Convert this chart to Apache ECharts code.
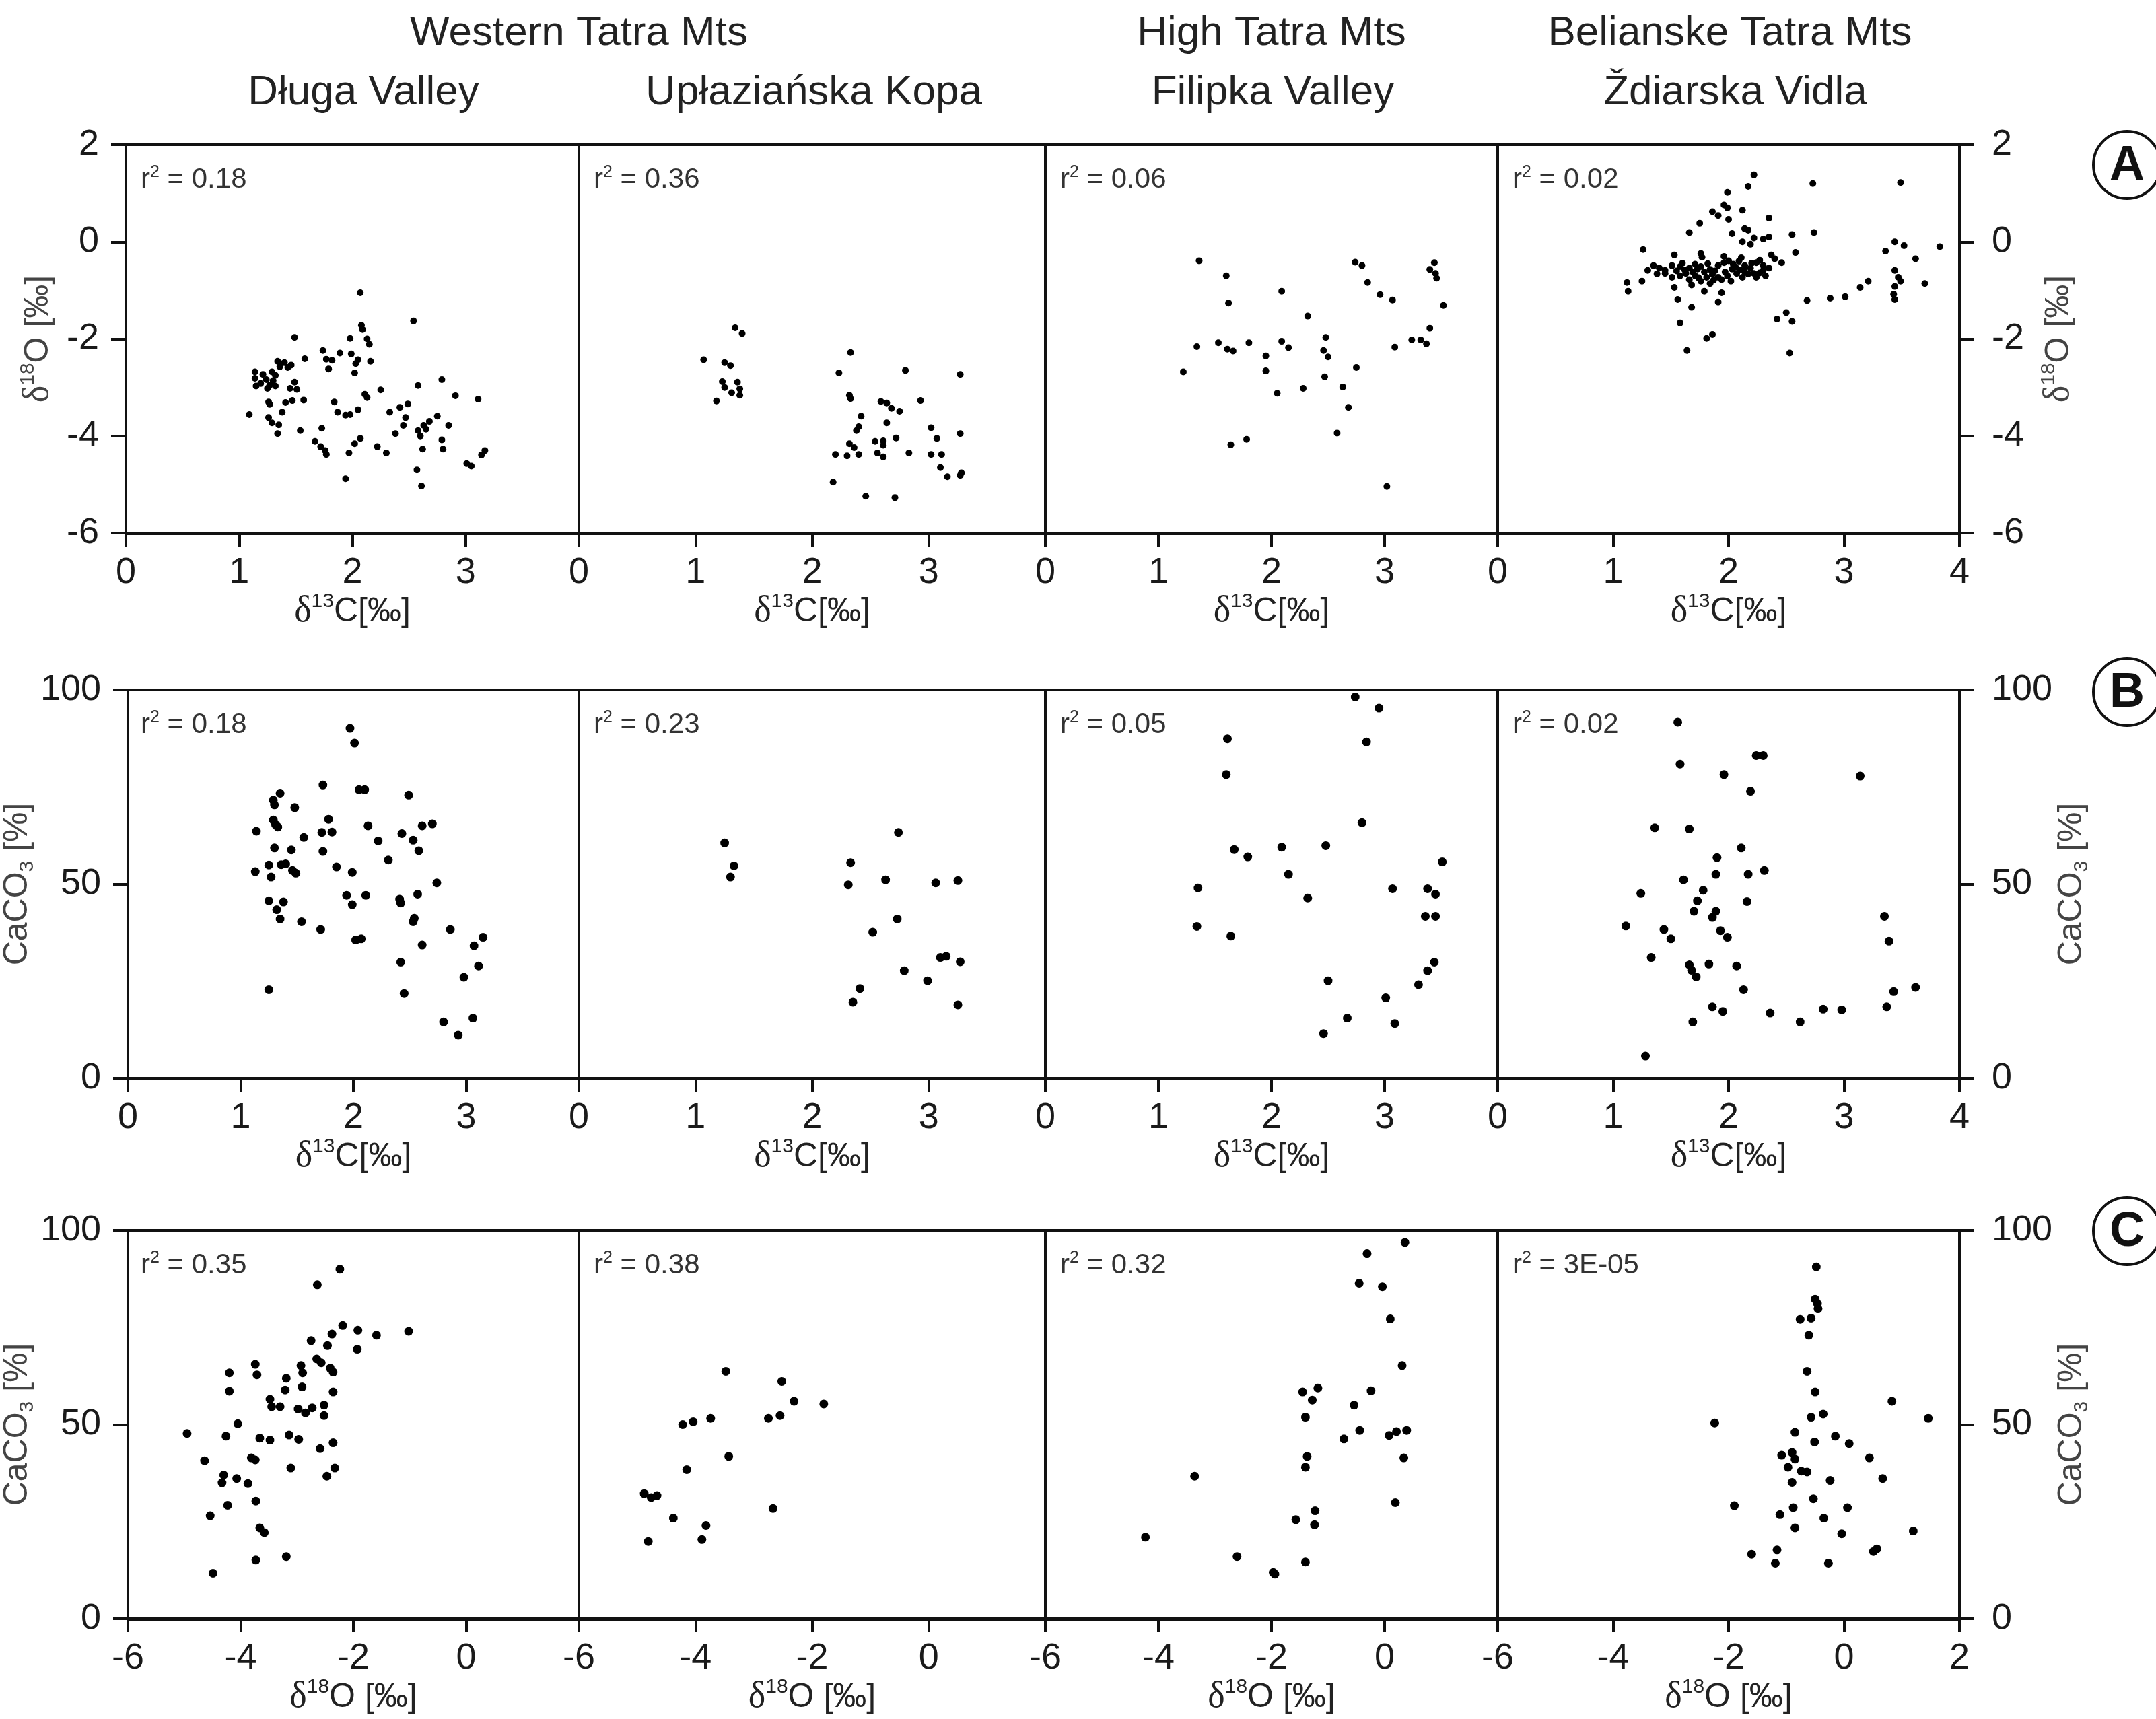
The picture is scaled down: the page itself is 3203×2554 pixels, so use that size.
<!DOCTYPE html>
<html>
<head>
<meta charset="utf-8">
<title>Tatra Mts - d13C, d18O, CaCO3</title>
<script src="https://cdn.jsdelivr.net/npm/echarts@6/dist/echarts.min.js"></script>
<style>
  html, body { margin: 0; padding: 0; background: #fff; }
  #chart { width: 3203px; height: 2554px; }
</style>
</head>
<body>
<div id="chart"></div>
<script>
// ---- data ----
const regionNames = ['Western Tatra Mts', 'High Tatra Mts', 'Belianske Tatra Mts']
const siteNames = ['Długa Valley', 'Upłaziańska Kopa', 'Filipka Valley', 'Ždiarska Vidla']
const rowLetters = ['A', 'B', 'C']
const r2Labels = [
  ['0.18', '0.36', '0.06', '0.02'],
  ['0.18', '0.23', '0.05', '0.02'],
  ['0.35', '0.38', '0.32', '3E-05']
]
// [min, max, interval]
const xRange = [[0, 4, 1], [0, 4, 1], [-6, 2, 2]]
const yRange = [[-6, 2, 2], [0, 100, 50], [0, 100, 50]]

// A: d13C vs d18O
const aDluga = [[2.07,-1.05],[2.54,-1.63],[2.08,-1.72],[2.09,-1.81],[1.49,-1.97],[1.98,-1.99],[2.13,-2.0],[2.15,-2.11],[1.74,-2.24],[1.89,-2.29],[1.99,-2.31],[1.58,-2.41],[1.77,-2.42],[1.82,-2.44],[2.05,-2.43],[2.16,-2.46],[2.03,-2.51],[1.34,-2.46],[1.40,-2.49],[1.46,-2.54],[1.36,-2.57],[1.43,-2.59],[1.79,-2.62],[2.02,-2.70],[1.14,-2.68],[1.21,-2.73],[1.29,-2.68],[1.32,-2.75],[1.14,-2.81],[1.24,-2.84],[1.30,-2.86],[1.19,-2.92],[1.27,-2.95],[1.15,-2.97],[1.25,-3.02],[1.32,-2.97],[1.49,-2.89],[1.45,-3.02],[1.51,-3.04],[2.79,-2.84],[2.58,-2.96],[2.25,-3.05],[2.11,-3.14],[2.13,-3.21],[2.91,-3.17],[3.11,-3.24],[1.26,-3.30],[1.27,-3.35],[1.41,-3.31],[1.47,-3.27],[1.57,-3.26],[1.84,-3.30],[2.49,-3.34],[2.42,-3.41],[1.87,-3.51],[1.98,-3.56],[2.05,-3.46],[1.94,-3.57],[1.38,-3.51],[1.09,-3.56],[2.33,-3.51],[2.47,-3.62],[2.75,-3.59],[2.68,-3.70],[1.26,-3.62],[1.29,-3.73],[1.35,-3.77],[2.45,-3.78],[2.63,-3.78],[2.85,-3.78],[2.58,-3.89],[2.65,-3.86],[1.73,-3.84],[1.54,-3.89],[1.34,-3.95],[2.38,-3.95],[2.60,-4.0],[2.07,-4.05],[2.79,-4.08],[1.67,-4.11],[2.02,-4.16],[1.72,-4.22],[1.76,-4.30],[1.77,-4.38],[2.22,-4.22],[2.30,-4.35],[2.62,-4.27],[2.80,-4.27],[1.97,-4.35],[3.17,-4.30],[3.14,-4.39],[3.01,-4.57],[3.05,-4.62],[2.57,-4.70],[1.94,-4.88],[2.61,-5.03]]
const aUplaz = [[1.34,-1.77],[1.40,-1.89],[2.33,-2.28],[1.07,-2.43],[1.25,-2.49],[1.30,-2.55],[2.80,-2.65],[2.23,-2.70],[3.27,-2.73],[1.23,-2.88],[1.36,-2.89],[1.25,-3.00],[1.38,-3.03],[1.31,-3.11],[1.38,-3.16],[1.18,-3.28],[2.32,-3.16],[2.33,-3.23],[2.59,-3.29],[2.64,-3.32],[2.93,-3.27],[2.68,-3.43],[2.75,-3.49],[2.42,-3.59],[2.64,-3.73],[2.40,-3.81],[2.38,-3.89],[3.02,-3.83],[3.27,-3.95],[2.72,-4.04],[3.07,-4.05],[2.54,-4.11],[2.61,-4.10],[2.32,-4.16],[2.36,-4.24],[2.61,-4.19],[2.20,-4.38],[2.30,-4.41],[2.40,-4.38],[2.56,-4.35],[2.61,-4.43],[2.83,-4.35],[3.02,-4.38],[3.11,-4.38],[3.10,-4.65],[3.16,-4.84],[3.28,-4.76],[3.27,-4.81],[2.18,-4.95],[2.46,-5.24],[2.71,-5.27]]
const aFilipka = [[1.36,-0.39],[1.60,-0.70],[2.74,-0.42],[2.80,-0.49],[3.44,-0.43],[3.40,-0.57],[3.45,-0.65],[3.46,-0.75],[2.85,-0.84],[2.09,-1.02],[2.96,-1.09],[3.07,-1.20],[1.62,-1.26],[3.52,-1.31],[2.32,-1.53],[3.40,-1.78],[2.48,-1.97],[3.24,-2.02],[3.32,-2.02],[3.37,-2.10],[1.34,-2.16],[1.53,-2.08],[1.61,-2.21],[1.66,-2.25],[1.80,-2.08],[2.09,-2.05],[2.15,-2.18],[2.46,-2.24],[2.50,-2.37],[3.09,-2.17],[1.95,-2.35],[1.22,-2.68],[1.95,-2.66],[2.75,-2.59],[2.47,-2.78],[2.63,-2.99],[2.28,-3.02],[2.05,-3.12],[2.68,-3.41],[2.58,-3.94],[1.78,-4.07],[1.64,-4.18],[3.02,-5.04]]
const aZdiar = [[2.22,1.38],[2.17,1.14],[2.73,1.20],[3.49,1.22],[1.99,1.02],[1.96,0.76],[1.99,0.70],[2.12,0.65],[1.86,0.62],[1.91,0.54],[2.00,0.46],[2.35,0.49],[1.75,0.38],[2.14,0.27],[2.17,0.24],[1.66,0.19],[2.03,0.17],[2.55,0.15],[2.74,0.19],[2.22,0.08],[2.30,0.06],[2.35,0.10],[2.12,0.00],[2.19,-0.05],[3.44,0.00],[3.52,-0.08],[3.83,-0.10],[3.36,-0.19],[1.26,-0.16],[2.58,-0.22],[1.53,-0.27],[1.76,-0.24],[1.77,-0.32],[1.96,-0.30],[2.37,-0.27],[2.40,-0.35],[3.62,-0.35],[2.46,-0.43],
  [1.35,-0.49],[1.40,-0.54],[1.45,-0.59],[1.30,-0.59],[1.51,-0.49],[1.58,-0.51],[1.66,-0.54],[1.71,-0.46],[1.76,-0.51],[1.84,-0.57],[1.91,-0.49],[1.96,-0.43],[2.04,-0.46],[2.09,-0.40],[2.14,-0.49],[2.19,-0.54],[2.24,-0.43],[2.30,-0.49],[2.35,-0.54],[1.63,-0.65],[1.71,-0.70],[1.79,-0.62],[1.86,-0.67],[1.91,-0.73],[1.99,-0.70],[2.07,-0.65],[2.14,-0.62],[2.22,-0.65],[2.30,-0.59],[1.66,-0.78],[1.76,-0.81],[1.84,-0.86],[1.94,-0.78],[2.02,-0.81],[1.58,-0.70],[1.51,-0.73],[1.45,-0.65],[1.68,-0.89],[1.81,-0.73],[2.12,-0.73],[2.24,-0.73],[2.32,-0.70],
  [1.62,-0.58],[1.69,-0.62],[1.74,-0.74],[1.88,-0.60],[1.97,-0.62],[2.03,-0.56],[2.10,-0.58],[2.17,-0.66],[2.27,-0.64],[2.20,-0.44],[2.06,-0.52],[1.82,-0.45],[1.73,-0.56],[1.55,-0.60],[1.87,-0.79],[2.00,-0.39],[2.27,-0.38],[2.11,-0.33],[1.60,-0.44],[1.38,-0.66],
  [1.12,-0.84],[1.13,-1.02],[1.25,-0.81],[1.53,-0.94],[1.56,-1.19],[1.68,-1.35],[1.79,-1.02],[1.91,-1.24],[1.94,-1.05],[1.58,-1.67],[1.81,-1.99],[1.86,-1.91],[1.64,-2.24],[2.42,-1.59],[2.50,-1.46],[2.55,-1.64],[2.53,-2.29],[2.68,-1.21],[2.88,-1.16],[3.01,-1.13],[3.14,-0.94],[3.21,-0.81],[3.44,-0.59],[3.47,-0.73],[3.49,-0.81],[3.44,-0.92],[3.43,-1.08],[3.44,-1.19],[3.70,-0.86]]

// B: d13C vs CaCO3
const bDluga = [[1.97,90.1],[2.01,86.3],[1.73,75.5],[2.05,74.3],[2.10,74.3],[1.35,73.4],[2.49,72.9],[1.29,71.6],[1.30,70.4],[1.48,69.7],[1.29,66.5],[1.31,65.3],[1.33,64.7],[1.78,66.7],[1.14,63.6],[1.72,63.3],[1.81,63.4],[2.13,65.0],[2.61,65.0],[2.70,65.5],[2.43,63.0],[1.56,62.0],[2.22,61.1],[2.53,61.3],[1.30,59.3],[1.45,58.8],[1.73,58.4],[2.58,58.6],[2.31,56.2],[1.25,54.9],[1.36,55.0],[1.40,55.2],[1.13,53.2],[1.46,53.5],[1.49,52.8],[1.85,54.4],[1.99,53.0],[1.27,51.8],[2.74,50.3],[1.25,45.7],[1.38,45.4],[1.94,47.1],[1.99,44.7],[2.11,47.1],[2.41,46.1],[2.42,45.1],[2.57,47.4],[1.32,43.4],[1.35,41.0],[1.54,40.3],[1.71,38.3],[2.54,41.2],[2.53,40.3],[2.86,38.3],[2.02,35.6],[2.07,35.9],[3.15,36.3],[3.07,34.1],[2.61,34.3],[2.42,29.9],[3.11,28.9],[2.98,26.0],[1.25,22.8],[2.45,21.8],[2.80,14.5],[3.06,15.5],[2.93,11.1]]
const bUplaz = [[1.25,60.6],[1.33,54.7],[1.30,51.8],[2.74,63.3],[2.33,55.5],[2.31,49.8],[2.63,51.1],[3.06,50.3],[3.25,50.9],[2.73,41.0],[2.52,37.6],[3.10,31.1],[3.15,31.4],[3.27,30.0],[2.79,27.7],[2.99,25.1],[2.41,23.1],[2.35,19.6],[3.25,18.9]]
const bFilipka = [[2.74,98.2],[2.95,95.3],[2.84,86.6],[1.61,87.4],[1.60,78.2],[2.80,65.8],[1.67,58.9],[1.79,57.0],[2.09,59.5],[2.48,59.9],[3.51,55.7],[2.15,52.5],[1.35,49.0],[2.32,46.4],[3.07,48.8],[3.38,48.8],[3.45,47.4],[3.36,41.7],[3.45,41.7],[1.34,39.1],[1.64,36.6],[3.44,29.9],[3.38,27.7],[3.30,24.1],[2.50,25.1],[3.01,20.7],[2.67,15.5],[3.09,14.1],[2.46,11.5]]
const bZdiar = [[1.56,91.7],[1.58,80.9],[2.24,83.1],[2.30,83.1],[1.96,78.2],[3.14,77.8],[2.19,73.9],[1.36,64.5],[1.66,64.2],[2.11,59.3],[1.90,56.8],[1.89,52.5],[2.17,52.5],[2.31,53.5],[1.61,51.1],[1.24,47.6],[1.78,48.4],[1.73,45.7],[2.16,45.5],[1.70,43.0],[1.89,43.0],[1.86,41.4],[1.11,39.2],[1.44,38.3],[1.50,35.9],[1.93,38.0],[1.99,36.3],[3.35,41.7],[3.39,35.3],[1.33,31.1],[1.66,29.2],[1.68,27.8],[1.72,26.1],[1.83,29.4],[2.07,28.9],[2.13,22.8],[3.43,22.3],[3.62,23.4],[1.86,18.4],[1.95,17.2],[2.36,16.8],[2.82,17.8],[2.98,17.6],[3.37,18.4],[1.69,14.5],[2.62,14.5],[1.28,5.7]]

// C: d18O vs CaCO3
const cDluga = [[-2.24,90.0],[-2.64,86.0],[-2.19,75.5],[-2.38,73.3],[-1.92,74.3],[-1.59,73.0],[-1.02,74.0],[-2.75,71.6],[-2.46,70.3],[-1.93,69.4],[-3.74,65.5],[-3.71,62.8],[-4.20,63.3],[-4.20,58.6],[-2.93,65.2],[-2.90,63.3],[-2.91,59.7],[-3.19,61.9],[-3.21,58.9],[-2.65,66.9],[-2.57,65.9],[-2.41,64.5],[-2.36,63.5],[-2.36,58.4],[-3.48,56.5],[-3.45,54.6],[-3.30,54.6],[-2.98,54.0],[-2.85,53.0],[-2.73,54.3],[-2.52,55.0],[-2.52,52.3],[-4.05,50.2],[-4.95,47.7],[-4.26,47.0],[-3.66,46.5],[-3.48,46.0],[-3.14,47.3],[-2.97,46.2],[-2.36,45.3],[-2.59,43.8],[-4.64,40.7],[-3.81,41.4],[-3.74,40.9],[-3.11,38.8],[-2.33,38.8],[-4.30,37.0],[-4.33,35.0],[-4.07,36.1],[-3.87,34.8],[-2.47,36.7],[-3.73,30.3],[-4.23,29.2],[-4.54,26.5],[-3.66,23.4],[-3.58,22.2],[-3.73,15.1],[-3.19,16.0],[-4.49,11.7]]
const cUplaz = [[-3.48,63.7],[-2.52,61.1],[-2.31,56.0],[-1.80,55.3],[-4.22,50.0],[-4.04,50.7],[-3.74,51.6],[-2.75,51.6],[-2.55,52.3],[-3.43,41.8],[-4.15,38.4],[-4.88,32.2],[-4.76,31.2],[-4.66,31.7],[-2.67,28.4],[-4.38,25.9],[-3.82,24.0],[-3.89,20.4],[-4.81,19.9]]
const cFilipka = [[0.36,96.9],[-0.31,94.0],[-0.45,86.4],[-0.04,85.5],[0.10,77.2],[0.31,65.2],[-1.45,58.4],[-1.18,59.4],[-1.28,56.3],[-0.24,58.7],[-0.54,55.0],[-1.40,51.9],[-0.44,48.5],[-0.72,46.3],[0.08,47.2],[0.21,48.2],[0.39,48.5],[0.34,41.4],[-1.37,41.8],[-1.40,39.0],[-3.36,36.7],[0.19,29.9],[-1.23,27.8],[-1.24,24.2],[-1.57,25.5],[-4.23,21.0],[-2.61,16.0],[-1.97,11.9],[-1.94,11.5],[-1.40,14.6]]
const cZdiar = [[-0.48,90.6],[-0.50,82.3],[-0.46,81.1],[-0.45,79.8],[-0.76,77.1],[-0.57,77.4],[-0.61,73.0],[-0.64,63.7],[-0.50,58.4],[0.83,56.0],[1.46,51.6],[-2.24,50.4],[-0.57,51.9],[-0.36,52.7],[-0.85,48.0],[-0.15,47.0],[0.09,45.1],[-0.51,45.5],[0.44,41.4],[-1.08,42.1],[-0.90,42.8],[-0.85,41.1],[-0.97,39.0],[-0.74,38.0],[-0.64,37.8],[0.67,36.1],[-0.90,35.1],[-0.24,35.6],[-0.53,30.9],[-1.90,29.1],[-0.88,28.6],[-1.11,26.8],[0.06,28.6],[-0.35,25.9],[-0.85,23.4],[-0.04,21.9],[1.20,22.6],[-1.60,16.6],[-1.16,17.7],[0.51,17.3],[0.57,18.0],[-1.19,14.3],[-0.27,14.3]]

const panels = [
  [aDluga, aUplaz, aFilipka, aZdiar],
  [bDluga, bUplaz, bFilipka, bZdiar],
  [cDluga, cUplaz, cFilipka, cZdiar]
]

// ---- layout (px) ----
const panelLeft = [187, 860, 1553, 2225]
const panelWidth = [673, 693, 672, 686]
const rowTop = [215, 1025, 1828]
const rowHeight = 577
const FONT = '"Liberation Sans", Arial, sans-serif'

// axis titles with super/subscripts
const d13C = '{d|δ}{s|13}{n|C[‰]}'
const d18O = '{d|δ}{s|18}{n|O [‰]}'
const caco3 = '{n|CaCO}{b|3}{n| [%]}'
const xNames = [d13C, d13C, d18O]
const yNames = [d18O, caco3, caco3]

function richName(color) {
  return {
    d: { fontFamily: '"Liberation Serif", serif', fontSize: 54, color: color, lineHeight: 60 },
    s: { fontSize: 30, color: color, verticalAlign: 'top', lineHeight: 30 },
    b: { fontSize: 30, color: color, verticalAlign: 'bottom', lineHeight: 30 },
    n: { fontSize: 50, color: color, lineHeight: 60 }
  }
}

let option = {
  backgroundColor: '#fff',
  animation: false,
  textStyle: { fontFamily: FONT },
  grid: [],
  xAxis: [],
  yAxis: [],
  series: [],
  graphic: { elements: [] }
}

for (let r = 0; r < 3; r++) {
  for (let c = 0; c < 4; c++) {
    let i = r * 4 + c
    let edge = c === 0 || c === 3
    option.grid.push({
      left: panelLeft[c], top: rowTop[r], width: panelWidth[c], height: rowHeight,
      show: true, borderColor: '#111', borderWidth: 4
    })
    option.xAxis.push({
      gridIndex: i,
      type: 'value',
      min: xRange[r][0], max: xRange[r][1], interval: xRange[r][2],
      axisLine: { onZero: false, lineStyle: { color: '#111', width: 5 } },
      axisTick: { length: 20, lineStyle: { color: '#111', width: 4 } },
      axisLabel: { fontSize: 54, color: '#1a1a1a', margin: 32, showMaxLabel: c === 3 },
      splitLine: { show: false },
      name: xNames[r],
      nameLocation: 'middle',
      nameGap: 86,
      nameTextStyle: { rich: richName('#222') }
    })
    option.yAxis.push({
      gridIndex: i,
      type: 'value',
      position: c === 3 ? 'right' : 'left',
      min: yRange[r][0], max: yRange[r][1], interval: yRange[r][2],
      axisLine: { show: edge, onZero: false, lineStyle: { color: '#111', width: 4 } },
      axisTick: { show: edge, length: 22, lineStyle: { color: '#111', width: 4 } },
      axisLabel: { show: edge, fontSize: 54, color: '#1a1a1a', margin: c === 3 ? 48 : 40 },
      splitLine: { show: false },
      name: edge ? yNames[r] : '',
      nameLocation: 'middle',
      nameRotate: 90,
      nameGap: c === 3 ? 118 : 100,
      nameTextStyle: { rich: richName('#444') }
    })
    option.series.push({
      type: 'scatter',
      xAxisIndex: i,
      yAxisIndex: i,
      data: panels[r][c],
      symbol: 'circle',
      symbolSize: r === 0 ? 10 : 13,
      itemStyle: { color: '#000', opacity: 1 }
    })
    // r^2 label in the corner
    option.graphic.elements.push({
      type: 'text',
      x: panelLeft[c] + 22,
      y: rowTop[r] + 52,
      style: {
        text: '{r|r}{s|2}{n| = ' + r2Labels[r][c] + '}',
        rich: {
          r: { fontSize: 42, fill: '#333', lineHeight: 46 },
          s: { fontSize: 25, fill: '#333', verticalAlign: 'top', lineHeight: 25 },
          n: { fontSize: 42, fill: '#333', lineHeight: 46 }
        },
        textAlign: 'left', align: 'left',
        textVerticalAlign: 'middle', verticalAlign: 'middle'
      }
    })
  }
}

// headers
const regionX = [860, 1889, 2570]
const siteX = [540, 1209, 1891, 2578]
regionNames.forEach((t, k) => {
  option.graphic.elements.push({
    type: 'text', x: regionX[k], y: 50,
    style: { text: t, font: '62px ' + FONT, fill: '#222', textAlign: 'center', align: 'center', textVerticalAlign: 'middle', verticalAlign: 'middle' }
  })
})
siteNames.forEach((t, k) => {
  option.graphic.elements.push({
    type: 'text', x: siteX[k], y: 138,
    style: { text: t, font: '62px ' + FONT, fill: '#222', textAlign: 'center', align: 'center', textVerticalAlign: 'middle', verticalAlign: 'middle' }
  })
})

// circled row letters (cut by the right edge, as in the figure)
const letterY = [245, 1028, 1829]
rowLetters.forEach((t, k) => {
  option.graphic.elements.push({
    type: 'circle',
    shape: { cx: 3160, cy: letterY[k], r: 50 },
    style: { fill: 'rgba(0,0,0,0)', stroke: '#111', lineWidth: 4 }
  })
  option.graphic.elements.push({
    type: 'text', x: 3160, y: letterY[k] + 2,
    style: { text: t, font: 'bold 72px ' + FONT, fill: '#111', textAlign: 'center', align: 'center', textVerticalAlign: 'middle', verticalAlign: 'middle' }
  })
})

let myChart = echarts.init(document.getElementById('chart'))
myChart.setOption(option)
</script>
</body>
</html>
